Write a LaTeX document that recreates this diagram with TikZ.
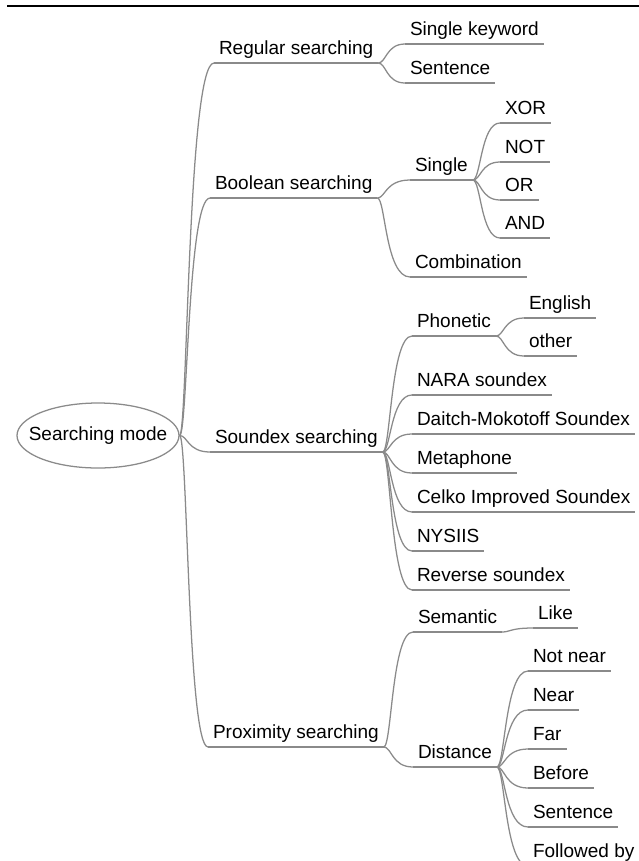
\documentclass[tikz,border=0pt]{standalone}
\usepackage{fontspec}
\setmainfont{Liberation Sans}
\usetikzlibrary{calc,shapes.geometric}
\definecolor{linegray}{RGB}{138,138,138}
\newcommand\topicfont{\fontsize{14.25pt}{17pt}\selectfont}
% curved mind-map link: leaves the parent horizontally, runs vertically, enters the child horizontally
\newcommand\mmlink[3][8]{\draw[branch] (#2) .. controls ($(#2)+(#1,0)$) and ($(#2 |- #3)+(#1,0)$) .. (#3);}

\begin{document}
\begin{tikzpicture}[x=0.75pt, y=-0.75pt,
  branch/.style={draw=linegray, line width=0.95pt},
  topic/.style={font=\topicfont, anchor=south west, inner xsep=3.75pt, inner ysep=6.75pt,
                text depth=0pt, outer sep=0pt},
  rootnode/.style={ellipse, draw=linegray, line width=0.95pt, minimum width=121.5pt,
                   minimum height=48.75pt, inner sep=0pt, font=\topicfont}]
\useasboundingbox (0,0) rectangle (639,861);
\clip (0,0) rectangle (639,861);

% rule across the top
\draw[line width=1.9pt] (7,6) -- (639,6);

% central topic
\node[rootnode] (root) at (98,435.5) {\makebox[0pt]{Searching mode}};

% main branches
\node[topic] (reg)  at (214,63)  {Regular searching};
\node[topic] (bool) at (210,198) {Boolean searching};
\node[topic] (sndx) at (210,452) {Soundex searching};
\node[topic] (prox) at (208,747) {Proximity searching};

% regular searching
\node[topic] (kw)    at (405,44) {Single keyword};
\node[topic] (sentA) at (405,83) {Sentence};

% boolean searching
\node[topic] (single) at (410,180) {Single};
\node[topic] (comb)   at (410,277) {Combination};
\node[topic] (bXor) at (500,123) {XOR};
\node[topic] (bNot) at (500,162) {NOT};
\node[topic] (bOr)  at (500,200) {OR};
\node[topic] (bAnd) at (500,238) {AND};

% soundex searching
\node[topic] (phon)   at (412,336) {Phonetic};
\node[topic] (nara)   at (412,395) {NARA soundex};
\node[topic] (daitch) at (412,434) {Daitch-Mokotoff Soundex};
\node[topic] (meta)   at (412,473) {Metaphone};
\node[topic] (celko)  at (412,512) {Celko Improved Soundex};
\node[topic] (nysiis) at (412,551) {NYSIIS};
\node[topic] (rev)    at (412,590) {Reverse soundex};
\node[topic] (eng)    at (524,318) {English};
\node[topic] (other)  at (524,356) {other};

% proximity searching
\node[topic] (sem)     at (413,632) {Semantic};
\node[topic] (dist)    at (413,767) {Distance};
\node[topic] (like)    at (533,628) {Like};
\node[topic] (notnear) at (528,671) {Not near};
\node[topic] (near)    at (528,710) {Near};
\node[topic] (far)     at (528,749) {Far};
\node[topic] (before)  at (528,788) {Before};
\node[topic] (sentB)   at (528,827) {Sentence};
\node[topic] (follow)  at (528,866) {Followed by};

% underlines
\foreach \n in {reg,bool,sndx,prox,kw,sentA,single,comb,bXor,bNot,bOr,bAnd,
                phon,nara,daitch,meta,celko,nysiis,rev,eng,other,
                sem,dist,like,notnear,near,far,before,sentB,follow}
  \draw[branch] (\n.south west) -- (\n.south east);

% links
\mmlink{root.east}{reg.south west}
\mmlink{root.east}{bool.south west}
\mmlink{root.east}{sndx.south west}
\mmlink{root.east}{prox.south west}

\mmlink{reg.south east}{kw.south west}
\mmlink{reg.south east}{sentA.south west}

\mmlink{bool.south east}{single.south west}
\mmlink{bool.south east}{comb.south west}
\mmlink{single.south east}{bXor.south west}
\mmlink{single.south east}{bNot.south west}
\mmlink{single.south east}{bOr.south west}
\mmlink{single.south east}{bAnd.south west}

\mmlink{sndx.south east}{phon.south west}
\mmlink{sndx.south east}{nara.south west}
\mmlink{sndx.south east}{daitch.south west}
\mmlink{sndx.south east}{meta.south west}
\mmlink{sndx.south east}{celko.south west}
\mmlink{sndx.south east}{nysiis.south west}
\mmlink{sndx.south east}{rev.south west}
\mmlink{phon.south east}{eng.south west}
\mmlink{phon.south east}{other.south west}

\mmlink{prox.south east}{sem.south west}
\mmlink{prox.south east}{dist.south west}
\mmlink{sem.south east}{like.south west}
\mmlink{dist.south east}{notnear.south west}
\mmlink{dist.south east}{near.south west}
\mmlink{dist.south east}{far.south west}
\mmlink{dist.south east}{before.south west}
\mmlink{dist.south east}{sentB.south west}
\mmlink{dist.south east}{follow.south west}
\end{tikzpicture}
\end{document}
